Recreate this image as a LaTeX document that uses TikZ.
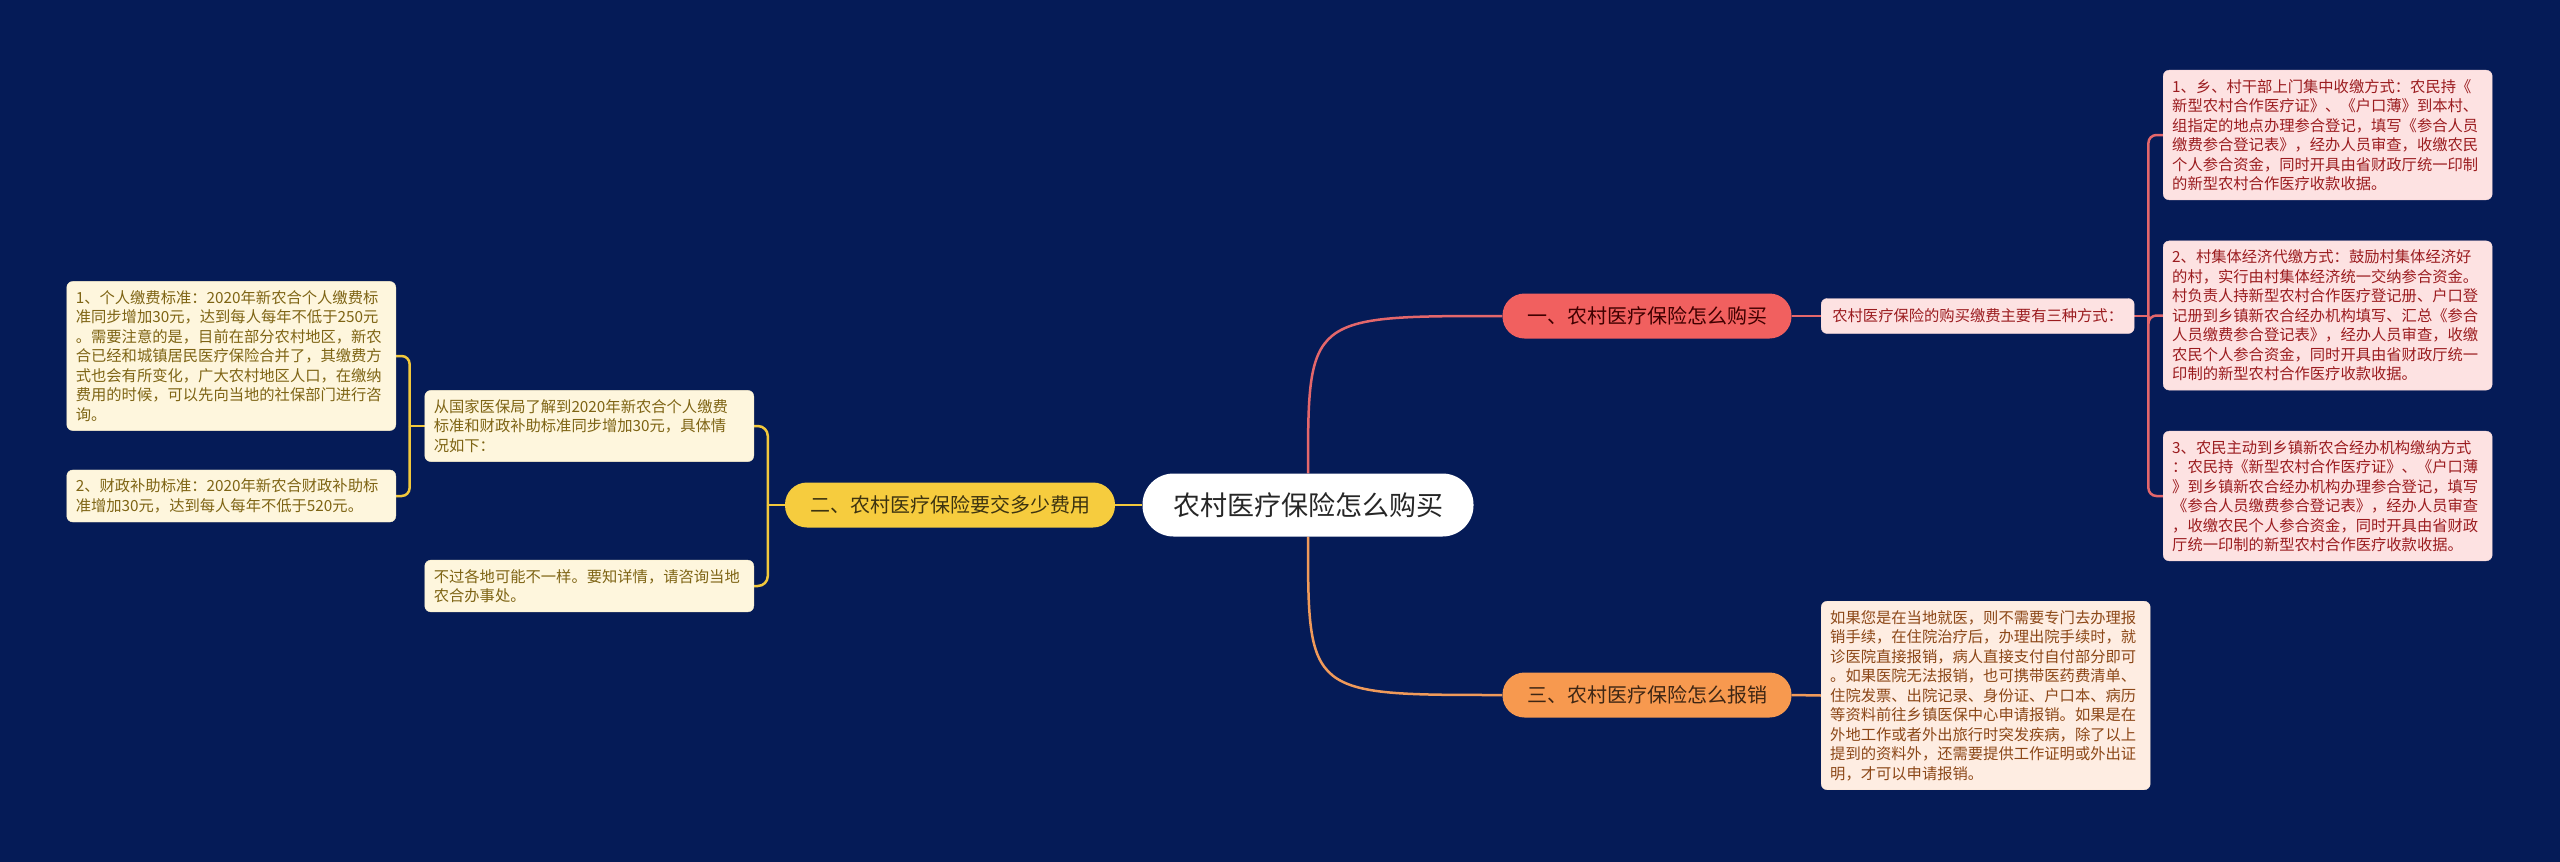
\documentclass[tikz,border=0pt]{standalone}
\usepackage{fontspec}
\setmainfont{Noto Sans CJK SC}
\usetikzlibrary{calc}

\definecolor{bgnavy}{HTML}{051B57}
\definecolor{redmain}{HTML}{F1605F}
\definecolor{redline}{HTML}{E4676B}
\definecolor{redleaf}{HTML}{FDE2E2}
\definecolor{redtext}{HTML}{9B1C1F}
\definecolor{orgmain}{HTML}{F7994F}
\definecolor{orgline}{HTML}{F09A5A}
\definecolor{orgleaf}{HTML}{FEEDE2}
\definecolor{orgtext}{HTML}{8C4717}
\definecolor{ylwmain}{HTML}{F6CC3E}
\definecolor{ylwline}{HTML}{F2C83C}
\definecolor{ylwleaf}{HTML}{FEF6DD}
\definecolor{ylwtext}{HTML}{7E6414}

\pgfdeclarelayer{background}
\pgfsetlayers{background,main}

\tikzset{
  rootbox/.style={fill=white, rounded corners=31pt, minimum width=331pt, minimum height=63pt,
    font=\fontsize{27}{30}\selectfont, text=black!85},
  branchbox/.style={rounded corners=22pt, minimum height=45pt, inner xsep=0pt,
    font=\fontsize{20}{24}\selectfont},
  leafbox/.style={rounded corners=6pt, text width=311pt, align=left, inner xsep=9pt, inner ysep=9pt,
    font=\fontsize{15.3}{19.5}\selectfont},
  link/.style={line width=2.5pt},
}

\begin{document}
\begin{tikzpicture}[x=1pt, y=-1pt]
\useasboundingbox (0,0) rectangle (2560,862);
\begin{pgfonlayer}{background}
\fill[bgnavy] (0,0) rectangle (2560,862);
\end{pgfonlayer}

% centre and main branches
\node[rootbox] (root) at (1308,505) {农村医疗保险怎么购买};
\node[branchbox, fill=redmain, text=black!75!red, minimum width=289pt] (buy) at (1647,316) {一、农村医疗保险怎么购买};
\node[branchbox, fill=orgmain, text=black!75!orgmain, minimum width=289pt] (claim) at (1647,695) {三、农村医疗保险怎么报销};
\node[branchbox, fill=ylwmain, text=black!75!ylwmain, minimum width=330pt] (cost) at (950,505) {二、农村医疗保险要交多少费用};

% buying
\node[leafbox, fill=redleaf, draw=redline!25, text=redtext, text width=, minimum width=313pt, minimum height=35pt, align=center, anchor=west]
  (ways) at (1821,316) {农村医疗保险的购买缴费主要有三种方式：};
\node[leafbox, fill=redleaf, draw=redline!25, text=redtext, anchor=west] (way1) at (2163,135) {%
1、乡、村干部上门集中收缴方式：农民持《\\
新型农村合作医疗证》、《户口薄》到本村、\\
组指定的地点办理参合登记，填写《参合人员\\
缴费参合登记表》，经办人员审查，收缴农民\\
个人参合资金，同时开具由省财政厅统一印制\\
的新型农村合作医疗收款收据。};
\node[leafbox, fill=redleaf, draw=redline!25, text=redtext, anchor=west] (way2) at (2163,315.5) {%
2、村集体经济代缴方式：鼓励村集体经济好\\
的村，实行由村集体经济统一交纳参合资金。\\
村负责人持新型农村合作医疗登记册、户口登\\
记册到乡镇新农合经办机构填写、汇总《参合\\
人员缴费参合登记表》，经办人员审查，收缴\\
农民个人参合资金，同时开具由省财政厅统一\\
印制的新型农村合作医疗收款收据。};
\node[leafbox, fill=redleaf, draw=redline!25, text=redtext, anchor=west] (way3) at (2163,496) {%
3、农民主动到乡镇新农合经办机构缴纳方式\\
：农民持《新型农村合作医疗证》、《户口薄\\
》到乡镇新农合经办机构办理参合登记，填写\\
《参合人员缴费参合登记表》，经办人员审查\\
，收缴农民个人参合资金，同时开具由省财政\\
厅统一印制的新型农村合作医疗收款收据。};

% claiming
\node[leafbox, fill=orgleaf, draw=orgline!25, text=orgtext, anchor=west] (claimtxt) at (1821,695.5) {%
如果您是在当地就医，则不需要专门去办理报\\
销手续，在住院治疗后，办理出院手续时，就\\
诊医院直接报销，病人直接支付自付部分即可\\
。如果医院无法报销，也可携带医药费清单、\\
住院发票、出院记录、身份证、户口本、病历\\
等资料前往乡镇医保中心申请报销。如果是在\\
外地工作或者外出旅行时突发疾病，除了以上\\
提到的资料外，还需要提供工作证明或外出证\\
明，才可以申请报销。};

% cost
\node[leafbox, fill=ylwleaf, draw=ylwline!25, text=ylwtext, anchor=east] (costinfo) at (754,426) {%
从国家医保局了解到2020年新农合个人缴费\\
标准和财政补助标准同步增加30元，具体情\\
况如下：};
\node[leafbox, fill=ylwleaf, draw=ylwline!25, text=ylwtext, anchor=east] (costnote) at (754,586) {%
不过各地可能不一样。要知详情，请咨询当地\\
农合办事处。};
\node[leafbox, fill=ylwleaf, draw=ylwline!25, text=ylwtext, anchor=east] (personal) at (396,356) {%
1、个人缴费标准：2020年新农合个人缴费标\\
准同步增加30元，达到每人每年不低于250元\\
。需要注意的是，目前在部分农村地区，新农\\
合已经和城镇居民医疗保险合并了，其缴费方\\
式也会有所变化，广大农村地区人口，在缴纳\\
费用的时候，可以先向当地的社保部门进行咨\\
询。};
\node[leafbox, fill=ylwleaf, draw=ylwline!25, text=ylwtext, anchor=east] (subsidy) at (396,496) {%
2、财政补助标准：2020年新农合财政补助标\\
准增加30元，达到每人每年不低于520元。};

\coordinate (waysfork) at ($(ways.east)+(14,0)$);
\coordinate (costfork) at ($(cost.west)+(-17,0)$);
\coordinate (infofork) at ($(costinfo.west)+(-15,0)$);

\begin{pgfonlayer}{background}
\draw[link, redline] (root.north) .. controls (root.north |- buy.west) .. (buy.west);
\draw[link, orgline] (root.south) .. controls (root.south |- claim.west) .. (claim.west);
\draw[link, ylwline] (root.west) -- (cost.east);
\draw[link, redline] (buy.east) -- (ways.west);
\draw[link, orgline] (claim.east) -- (claimtxt.west);
\draw[link, redline] (ways.east) -- (waysfork);
\foreach \w in {way1,way2,way3}
  \draw[link, redline, rounded corners=8pt] (waysfork) |- (\w.west);
\draw[link, ylwline] (cost.west) -- (costfork);
\foreach \w in {costinfo,costnote}
  \draw[link, ylwline, rounded corners=10pt] (costfork) |- (\w.east);
\draw[link, ylwline] (costinfo.west) -- (infofork);
\foreach \w in {personal,subsidy}
  \draw[link, ylwline, rounded corners=8pt] (infofork) |- (\w.east);
\end{pgfonlayer}
\end{tikzpicture}
\end{document}
